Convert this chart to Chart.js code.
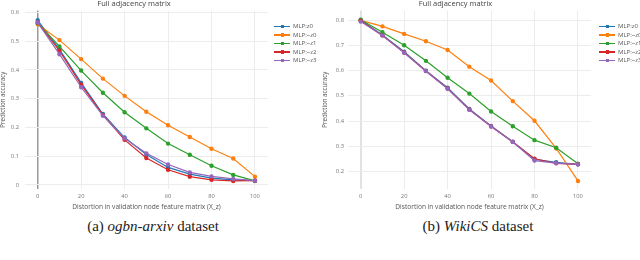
<!DOCTYPE html>
<html>
<head>
<meta charset="utf-8">
<script src="https://cdn.jsdelivr.net/npm/chart.js@4.4.1/dist/chart.umd.min.js"></script>
<style>
  body { margin: 0; width: 640px; height: 260px; overflow: hidden; background: #fff; position: relative; }
  .box { position: absolute; top: 0; width: 320px; height: 215px; }
  .legend { position: absolute; top: 22px; font: 6px "Open Sans", sans-serif; color: #555; }
  .legend div { height: 8.6px; line-height: 8.6px; white-space: nowrap; }
  .legend .ln { display: inline-block; position: relative; width: 16px; height: 1.4px; vertical-align: middle; margin-right: 3px; }
  .legend .ln i { position: absolute; left: 6.5px; top: -1.2px; width: 3.5px; height: 3.5px; }
  .cap { position: absolute; top: 218px; font: 15px "Liberation Serif", serif; color: #222; text-align: center; width: 320px; }
  .frag { position: absolute; top: 257px; font: 13px "Liberation Serif", serif; color: #777; }
</style>
</head>
<body>
<div class="box" style="left:0"><canvas id="left"></canvas></div>
<div class="box" style="left:320px"><canvas id="right"></canvas></div>
<div class="legend" id="legLeft" style="left:274px"></div>
<div class="legend" id="legRight" style="left:599px"></div>
<div class="cap" style="left:-7px">(a) <i>ogbn-arxiv</i> dataset</div>
<div class="cap" style="left:318px">(b) <i>WikiCS</i> dataset</div>
<div class="frag" style="left:100px">MLP<sub>z</sub> [X<sub>z</sub>]</div>
<div class="frag" style="left:273px">MLP<sub>z</sub> [X<sub>z</sub>]</div>
<script>
const distortion = [0, 10, 20, 30, 40, 50, 60, 70, 80, 90, 100];
const seriesNames = ['MLP:z0', 'MLP:~z0', 'MLP:~z1', 'MLP:~z2', 'MLP:~z3'];
const seriesColors = ['#1f77b4', '#ff7f0e', '#2ca02c', '#d62728', '#9467bd'];

// ogbn-arxiv
const arxivZ0  = [0.573, 0.472, 0.355, 0.247, 0.165, 0.106, 0.061, 0.038, 0.024, 0.018, 0.015];
const arxivNZ0 = [0.559, 0.504, 0.438, 0.370, 0.310, 0.255, 0.208, 0.167, 0.126, 0.092, 0.029];
const arxivNZ1 = [0.563, 0.482, 0.398, 0.321, 0.253, 0.197, 0.144, 0.105, 0.067, 0.035, 0.014];
const arxivNZ2 = [0.565, 0.467, 0.349, 0.244, 0.157, 0.094, 0.053, 0.029, 0.018, 0.014, 0.015];
const arxivNZ3 = [0.565, 0.455, 0.340, 0.241, 0.162, 0.110, 0.071, 0.044, 0.030, 0.021, 0.015];

// WikiCS
const wikiZ0  = [0.800, 0.742, 0.675, 0.600, 0.532, 0.448, 0.380, 0.318, 0.248, 0.236, 0.228];
const wikiNZ0 = [0.800, 0.776, 0.746, 0.717, 0.682, 0.616, 0.561, 0.479, 0.401, 0.291, 0.162];
const wikiNZ1 = [0.802, 0.753, 0.701, 0.639, 0.572, 0.509, 0.438, 0.379, 0.324, 0.294, 0.230];
const wikiNZ2 = [0.798, 0.740, 0.672, 0.599, 0.529, 0.446, 0.379, 0.317, 0.250, 0.232, 0.228];
const wikiNZ3 = [0.795, 0.740, 0.671, 0.598, 0.528, 0.445, 0.378, 0.317, 0.243, 0.233, 0.228];

const xTicks = [0, 20, 40, 60, 80, 100];
const arxivYTicks = [0, 0.1, 0.2, 0.3, 0.4, 0.5, 0.6];
const wikiYTicks = [0.2, 0.3, 0.4, 0.5, 0.6, 0.7, 0.8];

const titleText = 'Full adjacency matrix';
const xTitle = 'Distortion in validation node feature matrix (X_z)';
const yTitle = 'Prediction accuracy';

function makeChart(id, series, yTicks, yMin, yMax, opts) {
    const datasets = series.map((vals, i) => ({
        label: seriesNames[i],
        data: distortion.map((x, j) => ({ x: x, y: vals[j] })),
        borderColor: seriesColors[i],
        backgroundColor: seriesColors[i],
        borderWidth: 1.2,
        pointRadius: 1.6,
        pointHoverRadius: 1.6,
        order: series.length - 1 - i,
        fill: false,
    }));
    return new Chart(document.getElementById(id), {
        type: 'line',
        data: { datasets: datasets },
        options: {
            responsive: true,
            maintainAspectRatio: false,
            animation: false,
            layout: { padding: { right: opts.padRight } },
            plugins: {
                legend: { display: false },
                tooltip: { enabled: false },
                title: {
                    display: true,
                    text: titleText,
                    color: '#444',
                    font: { family: 'Open Sans', size: 7.5, weight: 'normal', lineHeight: 1 },
                    padding: { top: 0, bottom: 3 },
                    align: 'center'
                }
            },
            scales: {
                x: {
                    type: 'linear',
                    min: -5.85,
                    max: 106,
                    afterFit: s => { s.height = 26; },
                    afterBuildTicks: s => { s.ticks = xTicks.map(v => ({ value: v })); },
                    border: { display: false },
                    grid: {
                        drawTicks: false,
                        color: c => c.tick && c.tick.value === 0 ? opts.zeroColor : '#ececec',
                        lineWidth: c => c.tick && c.tick.value === 0 ? opts.zeroWidth : 1
                    },
                    ticks: {
                        padding: 4,
                        color: '#777',
                        font: { family: 'Open Sans', size: 5.8 },
                        maxRotation: 0
                    },
                    title: {
                        display: true,
                        text: xTitle,
                        color: '#555',
                        font: { family: 'Open Sans', size: 6.6, lineHeight: 1.2 },
                        padding: { top: 0, bottom: 3.5 }
                    }
                },
                y: {
                    type: 'linear',
                    min: yMin,
                    max: yMax,
                    afterFit: s => { s.width = opts.yWidth; },
                    afterBuildTicks: s => { s.ticks = yTicks.map(v => ({ value: v })); },
                    border: { display: false },
                    grid: { drawTicks: false, color: '#ececec', lineWidth: 1 },
                    ticks: {
                        padding: opts.tickPad,
                        color: '#777',
                        font: { family: 'Open Sans', size: 5.8 },
                        callback: v => String(Math.round(v * 10) / 10)
                    },
                    title: {
                        display: true,
                        text: yTitle,
                        color: '#555',
                        font: { family: 'Open Sans', size: 6.2, lineHeight: 1.2 },
                        padding: { top: opts.yTitlePad, bottom: 0 }
                    }
                }
            }
        }
    });
}

function makeLegend(id) {
    const el = document.getElementById(id);
    seriesNames.forEach((name, i) => {
        const row = document.createElement('div');
        row.innerHTML = '<span class="ln" style="background:' + seriesColors[i] + '"><i style="background:' +
            seriesColors[i] + '"></i></span>' + name;
        el.appendChild(row);
    });
}

makeChart('left', [arxivZ0, arxivNZ0, arxivNZ1, arxivNZ2, arxivNZ3], arxivYTicks, -0.014, 0.607,
    { padRight: 52, yWidth: 25, tickPad: 6, yTitlePad: 0, zeroColor: '#999', zeroWidth: 1.5 });
makeChart('right', [wikiZ0, wikiNZ0, wikiNZ1, wikiNZ2, wikiNZ3], wikiYTicks, 0.130, 0.839,
    { padRight: 49, yWidth: 28, tickPad: 4, yTitlePad: 2, zeroColor: '#e2e2e2', zeroWidth: 2 });
makeLegend('legLeft');
makeLegend('legRight');
</script>
</body>
</html>
